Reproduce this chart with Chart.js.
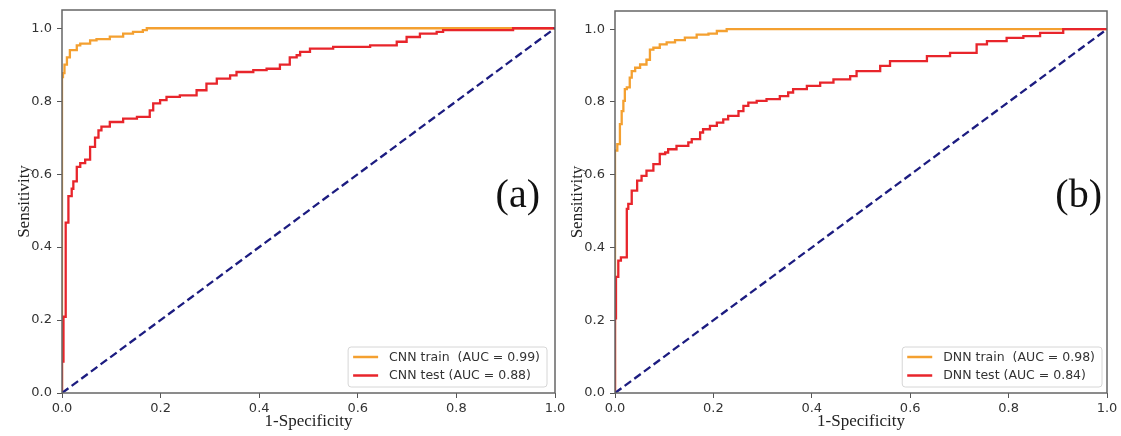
<!DOCTYPE html>
<html><head><meta charset="utf-8">
<script src="https://cdn.jsdelivr.net/npm/chart.js@4.4.1/dist/chart.umd.min.js"></script>
<style>
html,body{margin:0;padding:0;background:#fff;}
#wrap{position:relative;width:1121px;height:436px;background:#fff;overflow:hidden;}
canvas{position:absolute;left:0;top:0;}
</style></head><body>
<div id="wrap"><canvas id="ca" width="1121" height="436"></canvas><canvas id="cb" width="1121" height="436"></canvas></div>
<script>
// ---- tick labels ----
const tickValues = [0, 0.2, 0.4, 0.6, 0.8, 1.0];
const tickLabels = ['0.0', '0.2', '0.4', '0.6', '0.8', '1.0'];
const xTitle = '1-Specificity';
const yTitle = 'Sensitivity';
const panelLabels = ['(a)', '(b)'];
const legendA = ['CNN train  (AUC = 0.99)', 'CNN test (AUC = 0.88)'];
const legendB = ['DNN train  (AUC = 0.98)', 'DNN test (AUC = 0.84)'];

// ---- chance line ----
const diagX = [0, 1];
const diagY = [0, 1];

// ---- (a) CNN ----
const cnnTrainFpr = [0, 0, 0.002, 0.005, 0.01, 0.016, 0.03, 0.037, 0.057, 0.07, 0.097, 0.124, 0.144, 0.164, 0.172, 0.205, 1.0];
const cnnTrainTpr = [0, 0.68, 0.866, 0.877, 0.90, 0.92, 0.94, 0.953, 0.958, 0.967, 0.97, 0.977, 0.985, 0.99, 0.995, 1.0, 1.0];
const cnnTestFpr = [0, 0.003, 0.0075, 0.013, 0.0197, 0.023, 0.03, 0.037, 0.047, 0.057, 0.067, 0.074, 0.08, 0.097, 0.124, 0.152, 0.178, 0.185, 0.199, 0.212, 0.239, 0.273, 0.293, 0.314, 0.341, 0.354, 0.388, 0.415, 0.442, 0.462, 0.476, 0.483, 0.503, 0.55, 0.625, 0.679, 0.699, 0.726, 0.76, 0.773, 0.915, 0.929, 1.0];
const cnnTestTpr = [0, 0.086, 0.209, 0.467, 0.54, 0.56, 0.58, 0.62, 0.63, 0.64, 0.675, 0.70, 0.72, 0.73, 0.743, 0.752, 0.757, 0.775, 0.794, 0.803, 0.812, 0.816, 0.83, 0.848, 0.862, 0.871, 0.88, 0.885, 0.889, 0.90, 0.92, 0.926, 0.935, 0.944, 0.949, 0.953, 0.963, 0.976, 0.985, 0.99, 0.995, 1.0, 1.0];

// ---- (b) DNN ----
const dnnTrainFpr = [0, 0, 0.0047, 0.01, 0.0136, 0.017, 0.02, 0.024, 0.03, 0.034, 0.041, 0.051, 0.064, 0.071, 0.078, 0.091, 0.105, 0.122, 0.142, 0.166, 0.19, 0.207, 0.227, 0.383, 1.0];
const dnnTrainTpr = [0, 0.643, 0.666, 0.684, 0.739, 0.775, 0.803, 0.835, 0.84, 0.867, 0.885, 0.894, 0.903, 0.916, 0.944, 0.949, 0.958, 0.964, 0.97, 0.977, 0.985, 0.988, 0.995, 1.0, 1.0];
const dnnTestFpr = [0, 0.002, 0.0067, 0.012, 0.024, 0.027, 0.034, 0.045, 0.054, 0.064, 0.078, 0.091, 0.102, 0.108, 0.125, 0.149, 0.156, 0.173, 0.179, 0.193, 0.207, 0.22, 0.23, 0.251, 0.261, 0.271, 0.288, 0.308, 0.335, 0.352, 0.362, 0.39, 0.417, 0.444, 0.478, 0.491, 0.539, 0.559, 0.634, 0.681, 0.735, 0.756, 0.796, 0.83, 0.864, 0.911, 0.925, 1.0];
const dnnTestTpr = [0, 0.205, 0.319, 0.364, 0.373, 0.506, 0.52, 0.556, 0.584, 0.597, 0.611, 0.629, 0.657, 0.661, 0.67, 0.679, 0.689, 0.698, 0.716, 0.725, 0.734, 0.743, 0.752, 0.762, 0.775, 0.789, 0.798, 0.803, 0.808, 0.816, 0.826, 0.835, 0.844, 0.853, 0.862, 0.871, 0.885, 0.899, 0.912, 0.926, 0.935, 0.958, 0.967, 0.976, 0.981, 0.99, 1.0, 1.0];

const ORANGE = '#f4a030';
const RED = '#e8252b';
const NAVY = '#1c1c80';
const TICK_COLOR = '#333333';
const SPINE = '#666666';

function pts(xs, ys) { return xs.map((x, i) => ({x: x, y: ys[i]})); }

const framePlugin = {
  id: 'frame',
  afterDatasetsDraw(chart, args, opts) {
    const {ctx, chartArea: a} = chart;
    ctx.save();
    ctx.strokeStyle = SPINE;
    ctx.lineWidth = 1.5;
    ctx.strokeRect(a.left, a.top, a.right - a.left, a.bottom - a.top);
    ctx.fillStyle = '#111';
    ctx.font = '40px "Liberation Serif", "Times New Roman", serif';
    ctx.textBaseline = 'alphabetic';
    ctx.textAlign = 'right';
    ctx.fillText(opts.label, a.right - opts.labelInset, 207);
    ctx.font = '12.5px "DejaVu Sans", sans-serif';
    const tw = Math.max(...opts.items.map(t => ctx.measureText(t).width));
    const w = 5 + 25 + 11 + tw + 7;
    const h = 40;
    const x0 = a.right - opts.legendInset - w;
    const y0 = a.bottom - 6 - h;
    ctx.beginPath();
    if (ctx.roundRect) ctx.roundRect(x0, y0, w, h, 3); else ctx.rect(x0, y0, w, h);
    ctx.fillStyle = 'rgba(255,255,255,0.85)';
    ctx.fill();
    ctx.strokeStyle = '#d6d6d6';
    ctx.lineWidth = 1;
    ctx.stroke();
    const cols = [ORANGE, RED];
    opts.items.forEach((t, i) => {
      const yy = y0 + 10 + i * 18.5;
      ctx.strokeStyle = cols[i];
      ctx.lineWidth = 2.5;
      ctx.beginPath();
      ctx.moveTo(x0 + 5, yy);
      ctx.lineTo(x0 + 30, yy);
      ctx.stroke();
      ctx.fillStyle = '#333';
      ctx.textAlign = 'left';
      ctx.textBaseline = 'middle';
      ctx.fillText(t, x0 + 41, yy + 0.5);
    });
    ctx.restore();
  }
};

function makeChart(id, trainX, trainY, testX, testY, pad, yAxisWidth, yTitlePad, label, labelInset, items, legendInset) {
  return new Chart(document.getElementById(id), {
    type: 'line',
    data: {
      datasets: [
        {data: pts(diagX, diagY), borderColor: NAVY, borderWidth: 2.3, borderDash: [8, 4], pointRadius: 0, fill: false},
        {data: pts(testX, testY), borderColor: RED, borderWidth: 2.3, stepped: 'after', pointRadius: 0, fill: false},
        {data: pts(trainX, trainY), borderColor: ORANGE, borderWidth: 2.3, stepped: 'after', pointRadius: 0, fill: false}
      ]
    },
    options: {
      responsive: false,
      animation: false,
      events: [],
      layout: {padding: pad},
      plugins: {
        legend: {display: false},
        tooltip: {enabled: false},
        frame: {label: label, labelInset: labelInset, items: items, legendInset: legendInset}
      },
      scales: {
        x: {
          type: 'linear', min: 0, max: 1,
          afterBuildTicks: s => { s.ticks = tickValues.map(v => ({value: v})); },
          afterFit: s => { s.height = 43; s.paddingLeft = 0; s.paddingRight = 0; },
          ticks: {
            callback: (v) => tickLabels[tickValues.indexOf(v)] ?? '',
            color: TICK_COLOR, font: {family: '"DejaVu Sans", sans-serif', size: 13}, padding: 3, maxRotation: 0, autoSkip: false
          },
          grid: {display: true, drawOnChartArea: false, drawTicks: true, tickLength: 5, color: '#555', lineWidth: 1},
          border: {display: false},
          title: {display: true, text: xTitle, color: '#222', font: {family: '"Liberation Serif", "Times New Roman", serif', size: 17}, padding: {top: 0, bottom: 4}}
        },
        y: {
          type: 'linear', min: 0, max: 1.05,
          afterBuildTicks: s => { s.ticks = tickValues.map(v => ({value: v})); },
          afterFit: s => { s.width = yAxisWidth; s.paddingTop = 0; s.paddingBottom = 0; },
          ticks: {
            callback: (v) => tickLabels[tickValues.indexOf(v)] ?? '',
            color: TICK_COLOR, font: {family: '"DejaVu Sans", sans-serif', size: 13}, padding: 5, autoSkip: false
          },
          grid: {display: true, drawOnChartArea: false, drawTicks: true, tickLength: 5, color: '#555', lineWidth: 1},
          border: {display: false},
          title: {display: true, text: yTitle, color: '#222', font: {family: '"Liberation Serif", "Times New Roman", serif', size: 17}, padding: {top: yTitlePad, bottom: 0}}
        }
      }
    },
    plugins: [framePlugin]
  });
}

makeChart('ca', cnnTrainFpr, cnnTrainTpr, cnnTestFpr, cnnTestTpr,
  {left: 0, top: 10, right: 566, bottom: 0}, 62, 14, panelLabels[0], 15, legendA, 8);
makeChart('cb', dnnTrainFpr, dnnTrainTpr, dnnTestFpr, dnnTestTpr,
  {left: 560, top: 11, right: 14, bottom: 0}, 55, 7, panelLabels[1], 5, legendB, 5);
</script>
</body></html>
